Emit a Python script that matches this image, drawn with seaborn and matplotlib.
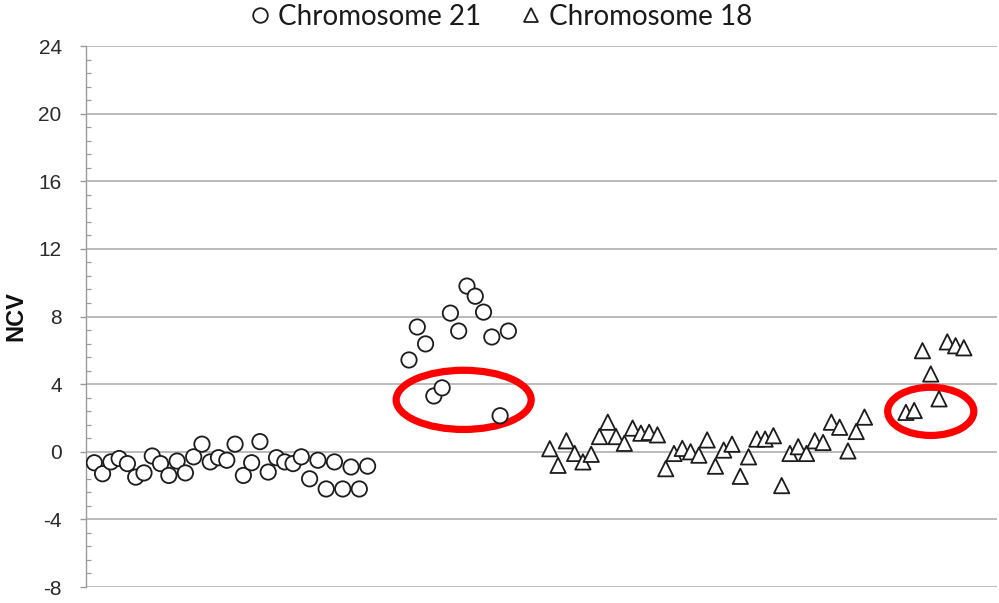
import matplotlib
matplotlib.use("Agg")
import matplotlib.pyplot as plt
from matplotlib.patches import Ellipse
from matplotlib.ticker import MultipleLocator, NullLocator
import pandas as pd
import seaborn as sns

# Sample positions along the run; empty slots separate the groups
chr21_normal_samples = list(range(1, 35))
chr21_normal_ncv = [-0.65, -1.3, -0.6, -0.4, -0.7, -1.5, -1.25, -0.25, -0.7, -1.4,
                    -0.55, -1.25, -0.3, 0.45, -0.6, -0.35, -0.5, 0.45, -1.4, -0.65,
                    0.6, -1.2, -0.35, -0.6, -0.7, -0.3, -1.6, -0.5, -2.2, -0.6,
                    -2.2, -0.9, -2.2, -0.85]

chr21_trisomy_samples = list(range(39, 52))
chr21_trisomy_ncv = [5.43, 7.38, 6.38, 3.3, 3.78, 8.2, 7.14, 9.8, 9.2, 8.26,
                     6.79, 2.13, 7.14]

chr18_normal_samples = list(range(56, 95))
chr18_normal_ncv = [0.18, -0.8, 0.65, -0.1, -0.6, -0.15, 0.9, 1.75, 0.9, 0.5,
                    1.4, 1.1, 1.15, 1.0, -1.0, -0.1, 0.2, 0.0, -0.2, 0.7,
                    -0.85, 0.1, 0.45, -1.45, -0.3, 0.75, 0.75, 0.95, -2.0, -0.1,
                    0.3, -0.1, 0.65, 0.55, 1.75, 1.45, 0.05, 1.2, 2.05]

chr18_trisomy_samples = list(range(99, 107))
chr18_trisomy_ncv = [2.33, 2.44, 5.98, 4.6, 3.13, 6.5, 6.27, 6.15]

series_names = ["Chromosome 21", "Chromosome 18"]
y_ticks = [-8, -4, 0, 4, 8, 12, 16, 20, 24]

df = pd.concat([
    pd.DataFrame({"sample": chr21_normal_samples + chr21_trisomy_samples,
                  "NCV": chr21_normal_ncv + chr21_trisomy_ncv,
                  "chromosome": series_names[0]}),
    pd.DataFrame({"sample": chr18_normal_samples + chr18_trisomy_samples,
                  "NCV": chr18_normal_ncv + chr18_trisomy_ncv,
                  "chromosome": series_names[1]}),
], ignore_index=True)

sns.set_theme(style="white")
plt.rcParams["font.family"] = ["Liberation Sans", "DejaVu Sans"]
plt.rcParams["axes.unicode_minus"] = False

fig = plt.figure(figsize=(9.99, 6.03), dpi=100)
ax = fig.add_axes([0.0861, 0.0265, 0.9119, 0.8972])

sns.scatterplot(data=df, x="sample", y="NCV", style="chromosome",
                style_order=series_names,
                markers={series_names[0]: "o", series_names[1]: "^"},
                color="white", edgecolor="#1c1c1c", linewidth=1.3, s=122,
                zorder=4, ax=ax)

# Highlight rings around the low-fraction affected samples
for (cx, cy, w, h) in [(45.6, 3.07, 16.3, 3.5), (102.0, 2.39, 10.4, 2.85)]:
    ax.add_patch(Ellipse((cx, cy), w, h, fill=False, edgecolor="#ff0000",
                         linewidth=5.2, zorder=3))

ax.set_xlim(0, 110)
ax.set_ylim(-8, 24)
ax.set_yticks(y_ticks)
ax.yaxis.set_minor_locator(MultipleLocator(0.8))
ax.xaxis.set_major_locator(NullLocator())
ax.set_xlabel("")
ax.grid(axis="y", which="major", color="#a8a8a8", linewidth=1.1, zorder=0)
ax.set_axisbelow(True)

for side in ["top", "right", "bottom"]:
    ax.spines[side].set_visible(False)
ax.spines["left"].set_color("#9a9a9a")
ax.spines["left"].set_linewidth(1.0)

ax.tick_params(axis="y", which="major", direction="out", length=4.5, width=1.0,
               color="#9a9a9a", pad=13, labelsize=15, labelcolor="#2a2a2a", left=True)
ax.tick_params(axis="y", which="minor", direction="in", length=3.8, width=0.9,
               color="#9a9a9a", left=True)

ax.set_ylabel("NCV", fontsize=17, fontweight="bold", color="#111111", labelpad=8)

sns.move_legend(ax, "upper center", bbox_to_anchor=(0.5, 0.993),
                bbox_transform=fig.transFigure, ncol=2, frameon=False, title=None,
                prop={"family": "Lato", "size": 20}, handlelength=0.9,
                handletextpad=0.2, columnspacing=1.35, markerscale=0.95,
                borderaxespad=0.0, borderpad=0.0)
for text in ax.get_legend().get_texts():
    text.set_color("#1a1a1a")

fig.savefig("out.png", dpi=100)
